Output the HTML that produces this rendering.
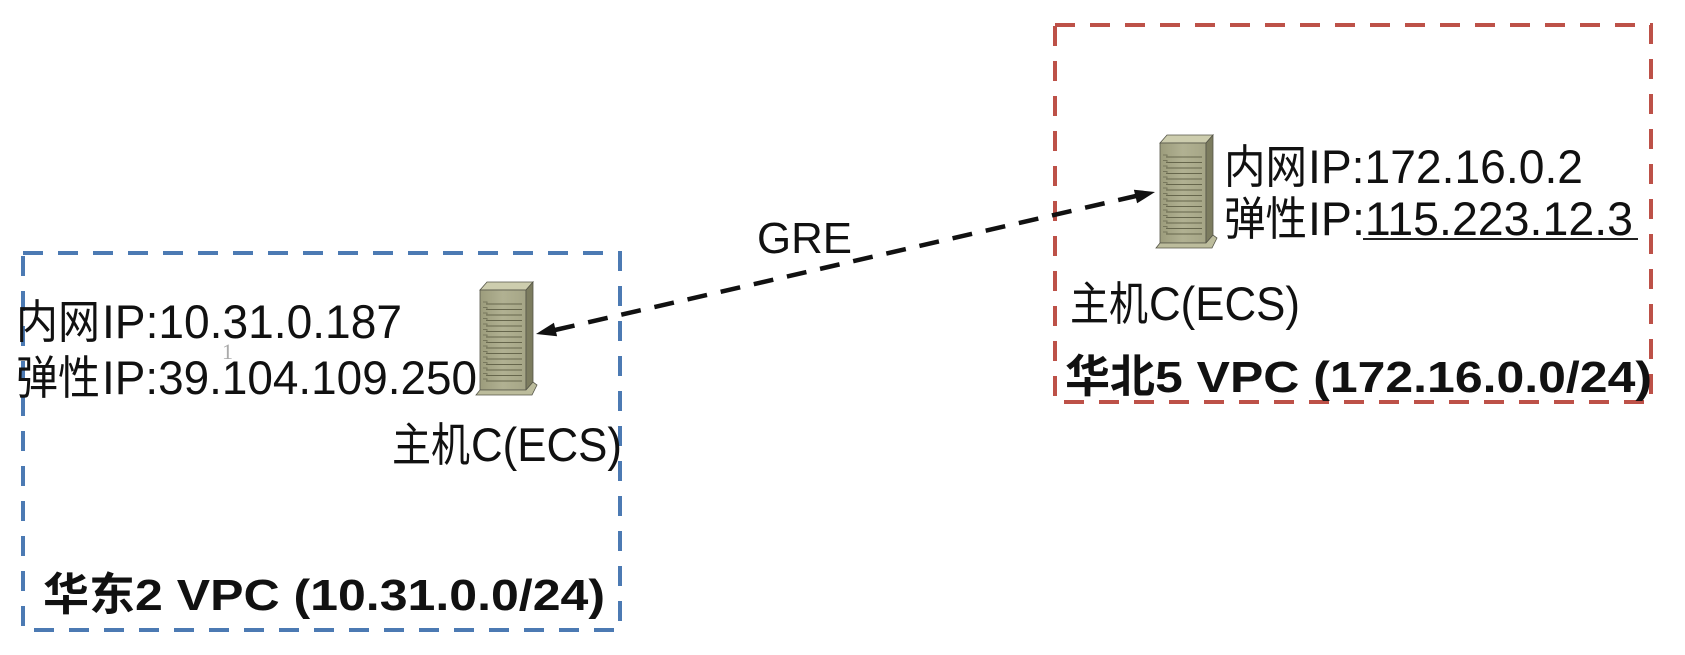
<!DOCTYPE html>
<html>
<head>
<meta charset="utf-8">
<style>
  html, body { margin: 0; padding: 0; background: #ffffff; }
  body { width: 1685px; height: 655px; overflow: hidden; }
  svg { display: block; }
  .lat { font-family: "Liberation Sans", Arial, sans-serif; fill: #111; }
  .cjk { font-family: "Liberation Sans", "Noto Sans CJK SC", sans-serif; fill: #111; }
</style>
</head>
<body>
<svg width="1685" height="655" viewBox="0 0 1685 655" xmlns="http://www.w3.org/2000/svg">
  <defs>
    <linearGradient id="front" x1="0" y1="0" x2="1" y2="0">
      <stop offset="0" stop-color="#9c9c7c"/>
      <stop offset="0.5" stop-color="#b1b192"/>
      <stop offset="1" stop-color="#a5a586"/>
    </linearGradient>
    <g id="server">
      <polygon points="0,8 7,0 53,0 46,8" fill="#cdcdae" stroke="#555548" stroke-width="0.8"/>
      <rect x="0" y="8" width="46" height="100" fill="url(#front)" stroke="#555548" stroke-width="0.8"/>
      <polygon points="46,8 53,0 53,100 46,108" fill="#7c7c5f" stroke="#555548" stroke-width="0.8"/>
      <polygon points="-4,113 0,108 46,108 53,100 57,103 52,113" fill="#bcbc9c" stroke="#555548" stroke-width="0.8"/>
      <g stroke="#66664c" stroke-width="1">
        <line x1="6" y1="22" x2="42" y2="22"/>
        <line x1="6" y1="27.5" x2="42" y2="27.5"/>
        <line x1="6" y1="33" x2="42" y2="33"/>
        <line x1="6" y1="38.5" x2="42" y2="38.5"/>
        <line x1="6" y1="44" x2="42" y2="44"/>
        <line x1="6" y1="49.5" x2="42" y2="49.5"/>
        <line x1="6" y1="55" x2="42" y2="55"/>
        <line x1="6" y1="60.5" x2="42" y2="60.5"/>
        <line x1="6" y1="66" x2="42" y2="66"/>
        <line x1="6" y1="71.5" x2="42" y2="71.5"/>
        <line x1="6" y1="77" x2="42" y2="77"/>
        <line x1="6" y1="82.5" x2="42" y2="82.5"/>
        <line x1="6" y1="88" x2="42" y2="88"/>
        <line x1="6" y1="93.5" x2="42" y2="93.5"/>
        <line x1="6" y1="99" x2="42" y2="99"/>
      </g>
      <g stroke="#77775c" stroke-width="1" fill="none">
        <path d="M3,20 h4 v2"/><path d="M3,25.5 h4 v2"/><path d="M3,31 h4 v2"/>
        <path d="M3,36.5 h4 v2"/><path d="M3,42 h4 v2"/><path d="M3,47.5 h4 v2"/>
        <path d="M3,53 h4 v2"/><path d="M3,58.5 h4 v2"/><path d="M3,64 h4 v2"/>
        <path d="M3,69.5 h4 v2"/><path d="M3,75 h4 v2"/><path d="M3,80.5 h4 v2"/>
        <path d="M3,86 h4 v2"/><path d="M3,91.5 h4 v2"/><path d="M3,97 h4 v2"/>
      </g>
    </g>
  </defs>

  <!-- VPC boxes -->
  <rect x="23" y="253" width="597" height="377" fill="none" stroke="#4c7ab3" stroke-width="4" stroke-dasharray="20 15"/>
  <rect x="1055" y="25" width="596" height="377" fill="none" stroke="#bd5148" stroke-width="4" stroke-dasharray="20 15"/>

  <!-- servers -->
  <use href="#server" x="480" y="282"/>
  <use href="#server" x="1160" y="135"/>

  <!-- GRE connector -->
  <line x1="555" y1="330" x2="1136" y2="196" stroke="#111" stroke-width="4.5" stroke-dasharray="20 14"/>
  <polygon points="536,334 557.1,336.3 553.9,322.7" fill="#111"/>
  <polygon points="1155,192 1137.1,203.3 1133.9,189.7" fill="#111"/>
  <text class="lat" x="757" y="253" font-size="44" textLength="95" lengthAdjust="spacingAndGlyphs">GRE</text>

  <!-- left host text -->
  <text class="cjk" x="16" y="338" font-size="46" textLength="84" lengthAdjust="spacingAndGlyphs">内网</text>
  <text class="lat" x="102" y="338" font-size="47" textLength="300" lengthAdjust="spacingAndGlyphs">IP:10.31.0.187</text>
  <text class="cjk" x="16" y="394" font-size="46" textLength="84" lengthAdjust="spacingAndGlyphs">弹性</text>
  <text class="lat" x="102" y="394" font-size="47" textLength="375" lengthAdjust="spacingAndGlyphs">IP:39.104.109.250</text>
  <text x="222" y="359" font-family="Liberation Serif, serif" font-size="22" fill="#aaaaaa">1</text>

  <text class="cjk" x="392" y="461" font-size="46" textLength="78" lengthAdjust="spacingAndGlyphs">主机</text>
  <text class="lat" x="471" y="461" font-size="47" textLength="151" lengthAdjust="spacingAndGlyphs">C(ECS)</text>

  <text class="cjk" x="43" y="610" font-size="45" font-weight="bold" textLength="92" lengthAdjust="spacingAndGlyphs">华东</text>
  <text class="lat" x="135" y="610" font-size="44" font-weight="bold" textLength="470" lengthAdjust="spacingAndGlyphs">2 VPC (10.31.0.0/24)</text>

  <!-- right host text -->
  <text class="cjk" x="1224" y="183" font-size="46" textLength="83" lengthAdjust="spacingAndGlyphs">内网</text>
  <text class="lat" x="1308" y="183" font-size="47" textLength="275" lengthAdjust="spacingAndGlyphs">IP:172.16.0.2</text>
  <text class="cjk" x="1224" y="235" font-size="46" textLength="83" lengthAdjust="spacingAndGlyphs">弹性</text>
  <text class="lat" x="1308" y="235" font-size="47" textLength="325" lengthAdjust="spacingAndGlyphs">IP:115.223.12.3</text>
  <line x1="1363" y1="239" x2="1638" y2="239" stroke="#222" stroke-width="2"/>

  <text class="cjk" x="1070" y="320" font-size="46" textLength="78" lengthAdjust="spacingAndGlyphs">主机</text>
  <text class="lat" x="1149" y="320" font-size="47" textLength="151" lengthAdjust="spacingAndGlyphs">C(ECS)</text>

  <text class="cjk" x="1065" y="392" font-size="45" font-weight="bold" textLength="90" lengthAdjust="spacingAndGlyphs">华北</text>
  <text class="lat" x="1155" y="392" font-size="44" font-weight="bold" textLength="497" lengthAdjust="spacingAndGlyphs">5 VPC (172.16.0.0/24)</text>
</svg>
</body>
</html>
